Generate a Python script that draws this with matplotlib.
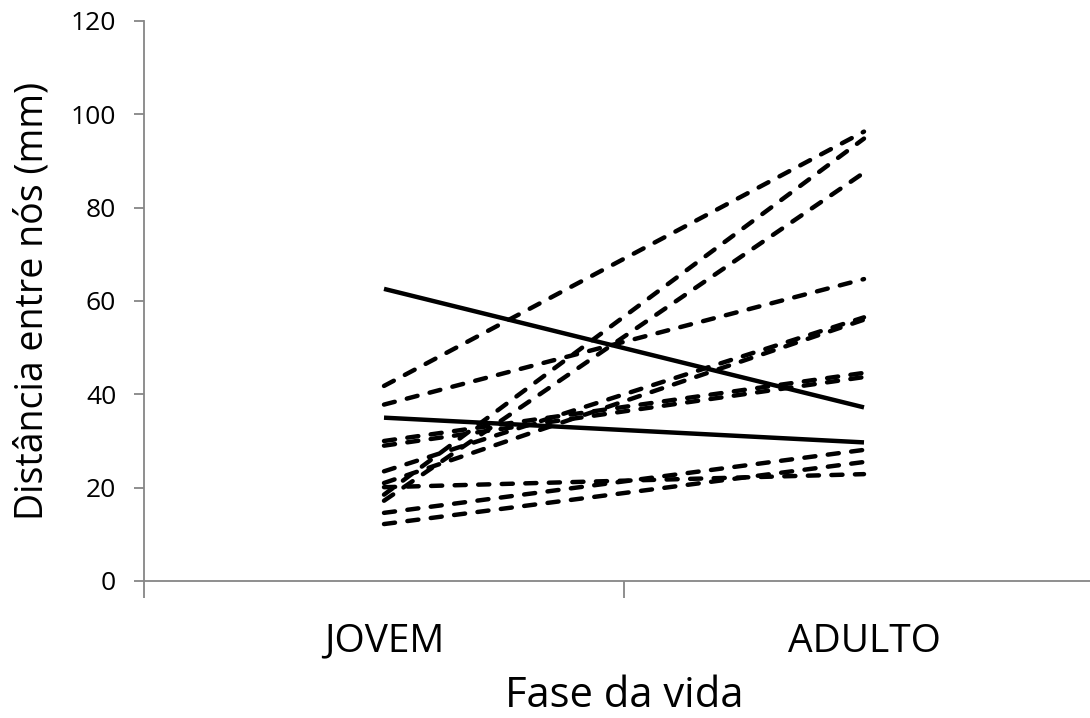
import matplotlib
matplotlib.use("Agg")
import matplotlib.pyplot as plt

fases = ['JOVEM', 'ADULTO']

# linhas continuas (jovem, adulto)
solid_jovem = [62.6, 35.0]
solid_adulto = [37.2, 29.7]

# linhas tracejadas (jovem, adulto)
dash_jovem = [41.8, 37.8, 30.0, 29.0, 23.5, 21.0, 20.1, 18.5, 17.2, 14.6, 12.2]
dash_adulto = [96.3, 64.7, 44.6, 43.7, 56.5, 56.0, 22.9, 94.8, 87.5, 28.1, 25.5]

plt.rcParams['font.family'] = ['Open Sans', 'DejaVu Sans']

fig = plt.figure(figsize=(10.9, 7.18), dpi=100)
ax = fig.add_axes([144/1090, 137/718, 960/1090, 560/718])

x = [0, 1]
for a, b in zip(dash_jovem, dash_adulto):
    ax.plot(x, [a, b], color='k', linewidth=3.2, linestyle=(0, (2.5, 2.8)),
            dash_capstyle='round', solid_capstyle='round')
for a, b in zip(solid_jovem, solid_adulto):
    ax.plot(x, [a, b], color='k', linewidth=3.2, solid_capstyle='butt')

ax.set_xlim(-0.5, 1.5)
ax.set_ylim(0, 120)
ax.set_yticks(range(0, 121, 20))
ax.set_xticks([-0.5, 0.5, 1.5])
ax.set_xticklabels([])
ax.set_xticks([0, 1], minor=True)
ax.set_xticklabels(fases, minor=True)

for s in ['top', 'right']:
    ax.spines[s].set_visible(False)
for s in ['left', 'bottom']:
    ax.spines[s].set_color('#868686')
    ax.spines[s].set_linewidth(1.3)

ax.tick_params(axis='y', direction='out', length=7, width=1.3, color='#868686',
               labelsize=19, pad=13)
ax.tick_params(axis='x', which='major', direction='out', length=12, width=1.3,
               color='#868686')
ax.tick_params(axis='x', which='minor', length=0, labelsize=28, pad=30)

ax.set_xlabel('Fase da vida', fontsize=30, labelpad=10)
ax.set_ylabel('Distância entre nós (mm)', fontsize=27, labelpad=14)

fig.savefig('out.png', dpi=100)
